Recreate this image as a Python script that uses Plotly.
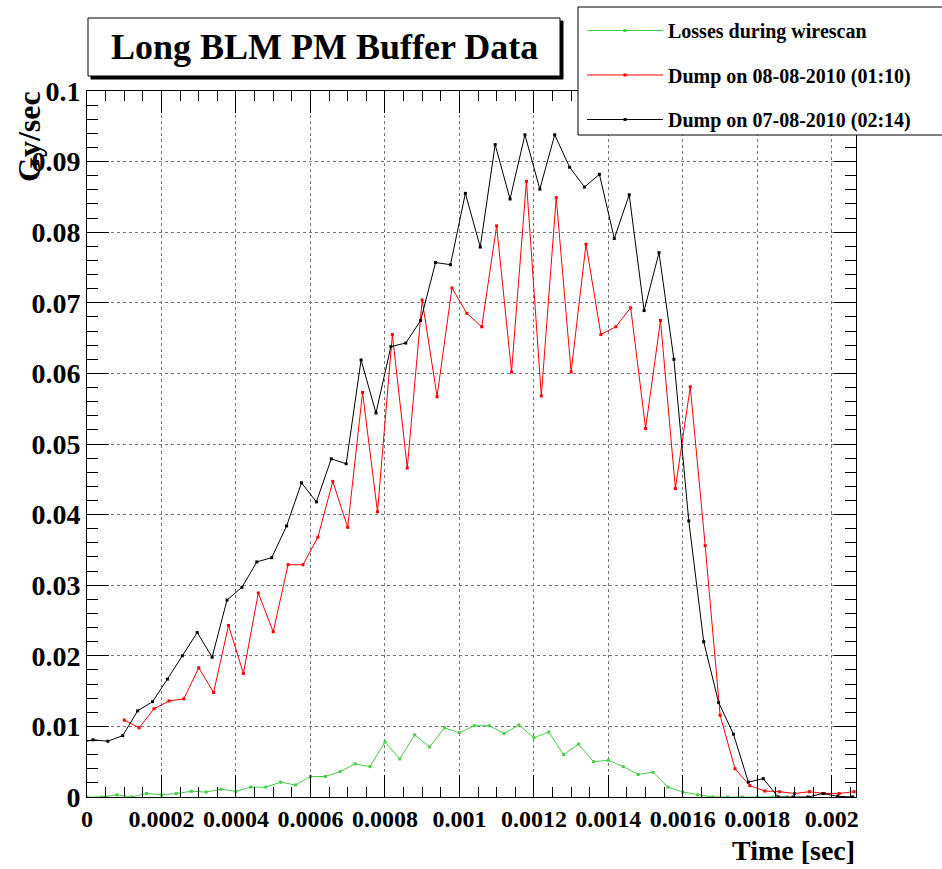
import plotly.graph_objects as go

# ---------------- data ----------------
t_step = 40e-6  # sampling step of the BLM buffer (s)
green_t0 = 0.0
red_t0 = 0.0001
black_t0 = -0.000024

green_vals = [0, 0, 0.0003, 0, 0.0005, 0.0003, 0.0005, 0.0008, 0.0007, 0.0011,
              0.0008, 0.0014, 0.0014, 0.0021, 0.0017, 0.0029, 0.0029, 0.0036, 0.0047, 0.0043,
              0.0078, 0.0054, 0.0088, 0.0071, 0.0098, 0.0091, 0.0101, 0.0101, 0.0090, 0.0102,
              0.0084, 0.0092, 0.0060, 0.0075, 0.0050, 0.0052, 0.0043, 0.0032, 0.0035, 0.0014,
              0.0007, 0.0003, 0, 0, 0, 0, 0, 0]

red_vals = [0.0109, 0.0098, 0.0125, 0.0136, 0.0139, 0.0183, 0.0148, 0.0243, 0.0175, 0.0289,
            0.0234, 0.0329, 0.0329, 0.0368, 0.0447, 0.0382, 0.0573, 0.0404, 0.0655, 0.0466,
            0.0704, 0.0567, 0.0721, 0.0685, 0.0666, 0.0809, 0.0602, 0.0872, 0.0568, 0.0849,
            0.0602, 0.0783, 0.0655, 0.0666, 0.0693, 0.0522, 0.0675, 0.0437, 0.0581, 0.0356,
            0.0116, 0.0040, 0.0016, 0.00085, 0.00075, 0.0005, 0.00075, 0.0005, 0.0005, 0.00075]

black_vals = [0.0076,
              0.0081, 0.0079, 0.0087, 0.0122, 0.0135, 0.0167, 0.0200, 0.0233, 0.0198, 0.0279,
              0.0297, 0.0333, 0.0339, 0.0384, 0.0445, 0.0418, 0.0479, 0.0472, 0.0619, 0.0544,
              0.0638, 0.0643, 0.0675, 0.0757, 0.0754, 0.0855, 0.0779, 0.0924, 0.0847, 0.0938,
              0.0861, 0.0938, 0.0892, 0.0864, 0.0882, 0.0791, 0.0853, 0.0689, 0.0771, 0.0620,
              0.0391, 0.0220, 0.0134, 0.0089, 0.0021, 0.0026, 0, 0, 0, 0.0005, 0.0001, 0]

series_names = ["Losses during wirescan",
                "Dump on 08-08-2010 (01:10)",
                "Dump on 07-08-2010 (02:14)"]

x_tickvals = [0, 0.0002, 0.0004, 0.0006, 0.0008, 0.001, 0.0012, 0.0014, 0.0016, 0.0018, 0.002]
x_ticktext = ["0", "0.0002", "0.0004", "0.0006", "0.0008", "0.001", "0.0012", "0.0014",
              "0.0016", "0.0018", "0.002"]
y_tickvals = [0, 0.01, 0.02, 0.03, 0.04, 0.05, 0.06, 0.07, 0.08, 0.09, 0.1]
y_ticktext = ["0", "0.01", "0.02", "0.03", "0.04", "0.05", "0.06", "0.07", "0.08", "0.09", "0.1"]

title_text = "Long BLM PM Buffer Data"
x_title = "Time [sec]"
y_title = "Gy/sec"

# ---------------- figure ----------------
def times(t0, n):
    return [t0 + i * t_step for i in range(n)]

FONT = "Liberation Serif, Times New Roman, serif"

fig = go.Figure()
specs = [(green_t0, green_vals, "#44d044", series_names[0]),
         (red_t0, red_vals, "#ff0000", series_names[1]),
         (black_t0, black_vals, "#000000", series_names[2])]
for t0, vals, col, name in specs:
    fig.add_trace(go.Scatter(
        x=times(t0, len(vals)), y=vals, mode="lines+markers", name=name,
        legendgroup=name,
        line=dict(color=col, width=1),
        marker=dict(symbol="square", size=3, color=col),
    ))

W, H = 942, 869
L, R, T, B = 87, 86, 91, 72
pw, ph = W - L - R, H - T - B

def px(x):
    return (x - L) / pw

def py(y):
    return (H - B - y) / ph

axis_common = dict(
    showline=True, linecolor="black", linewidth=1, mirror="allticks",
    ticks="inside", tickcolor="black", tickwidth=1,
    showgrid=True, gridcolor="#777777", griddash="dot", gridwidth=1,
    zeroline=False,
)

fig.update_xaxes(
    **axis_common, range=[0, 0.002065],
    tickvals=x_tickvals, ticktext=x_ticktext, ticklen=22,
    tickfont=dict(family=FONT, size=24, color="black", weight="bold"),
    minor=dict(ticks="inside", ticklen=10, tickcolor="black", dtick=0.00005, showgrid=False),
)
fig.update_yaxes(
    **axis_common, range=[0, 0.1],
    tickvals=y_tickvals, ticktext=y_ticktext, ticklen=22,
    tickfont=dict(family=FONT, size=28, color="black", weight="bold"),
    minor=dict(ticks="inside", ticklen=11, tickcolor="black", dtick=0.002, showgrid=False),
)

fig.update_layout(
    width=W, height=H,
    margin=dict(l=L, r=R, t=T, b=B, autoexpand=False),
    paper_bgcolor="white", plot_bgcolor="white",
    font=dict(family=FONT, color="black"),
    showlegend=True,
    legend=dict(
        x=px(582), y=py(11), xanchor="left", yanchor="top",
        bgcolor="rgba(0,0,0,0)", borderwidth=0,
        font=dict(family=FONT, size=20, color="black", weight="bold"),
        tracegroupgap=15.5, itemwidth=76,
    ),
    shapes=[
        # legend frame
        dict(type="rect", xref="paper", yref="paper",
             x0=px(578), x1=px(960), y0=py(135), y1=py(7),
             line=dict(color="black", width=1), fillcolor="white", layer="above"),
        # title box shadow
        dict(type="rect", xref="paper", yref="paper",
             x0=px(91), x1=px(563), y0=py(79), y1=py(21),
             line=dict(color="black", width=1), fillcolor="black", layer="above"),
        dict(type="rect", xref="paper", yref="paper",
             x0=px(88), x1=px(560), y0=py(76), y1=py(18),
             line=dict(color="black", width=1), fillcolor="white", layer="above"),
    ],
    annotations=[
        dict(text=title_text, xref="paper", yref="paper", x=px(324), y=py(47),
             xanchor="center", yanchor="middle", showarrow=False,
             font=dict(family=FONT, size=36, color="black", weight="bold")),
        dict(text=x_title, xref="paper", yref="paper", x=px(857), y=py(851),
             xanchor="right", yanchor="middle", showarrow=False,
             font=dict(family=FONT, size=28, color="black", weight="bold")),
        dict(text=y_title, xref="paper", yref="paper", x=px(29), y=py(137),
             xanchor="center", yanchor="middle", showarrow=False, textangle=-90,
             font=dict(family=FONT, size=32, color="black", weight="bold")),
    ],
)

fig.write_html("out.html")
